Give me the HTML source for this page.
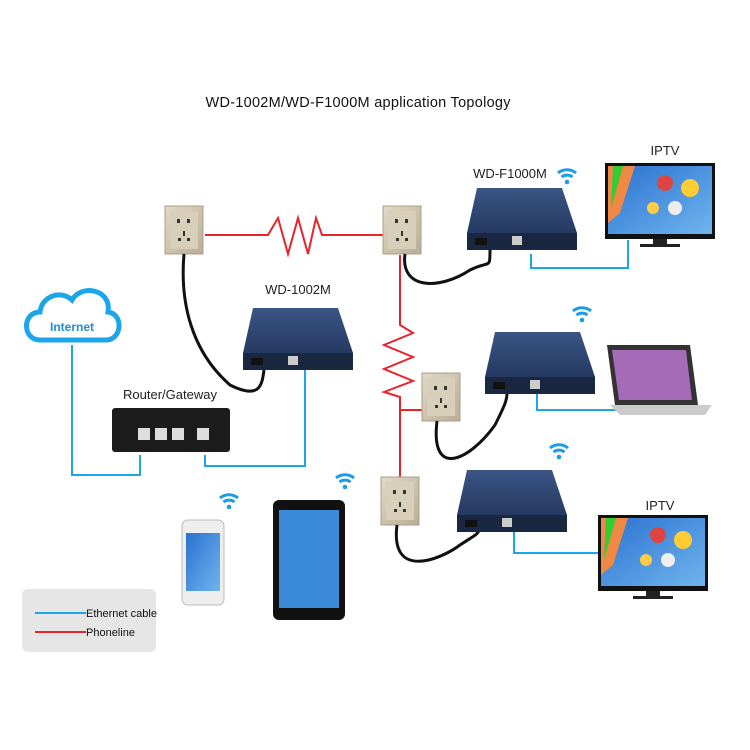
<!DOCTYPE html>
<html><head><meta charset="utf-8"><style>
html,body{margin:0;padding:0;background:#fff;}
svg{display:block;font-family:"Liberation Sans",sans-serif;}
</style></head><body>
<svg width="750" height="750" viewBox="0 0 750 750" xmlns="http://www.w3.org/2000/svg">
<defs>
<linearGradient id="gdev" x1="0" y1="0" x2="0" y2="1"><stop offset="0" stop-color="#3b5585"/><stop offset="1" stop-color="#1d2f55"/></linearGradient>
<linearGradient id="gout" x1="0" y1="0" x2="1" y2="1"><stop offset="0" stop-color="#e2d9c6"/><stop offset="1" stop-color="#b9ad95"/></linearGradient>
<linearGradient id="gscr" x1="0" y1="0" x2="1" y2="1"><stop offset="0" stop-color="#2a72d0"/><stop offset="1" stop-color="#6fb4ee"/></linearGradient>
<g id="outlet"><rect x="0" y="0" width="38" height="48" fill="url(#gout)" stroke="#a89e88"/><rect x="5" y="5" width="28" height="38" fill="#d8cfbb"/><rect x="12" y="13" width="3" height="4" fill="#333"/><rect x="22" y="13" width="3" height="4" fill="#333"/><rect x="18" y="25" width="2" height="5" fill="#333"/><rect x="13" y="32" width="3" height="3" fill="#333"/><rect x="22" y="32" width="3" height="3" fill="#333"/></g>
<g id="box"><path d="M10 0 H95 L110 45 V62 H0 V45 Z" fill="url(#gdev)"/><path d="M0 45 H110 V62 H0Z" fill="#1a2740"/><rect x="8" y="50" width="12" height="7" fill="#111"/><rect x="45" y="48" width="10" height="9" fill="#ccc"/></g>
<g id="wifi" fill="none" stroke="#1e9be6" stroke-width="3"><path d="M0 8 A14 14 0 0 1 18 8"/><path d="M3.5 12 A9 9 0 0 1 14.5 12"/><circle cx="9" cy="17" r="2.3" fill="#1e9be6" stroke="none"/></g>
<g id="tv"><rect x="0" y="0" width="110" height="76" fill="#111"/><rect x="3" y="3" width="104" height="68" fill="url(#gscr)"/><path d="M3 3 L30 3 L15 50 L3 60Z" fill="#e84"/><path d="M8 3 L18 3 L6 45Z" fill="#3c3"/><circle cx="60" cy="20" r="8" fill="#d44"/><circle cx="85" cy="25" r="9" fill="#fc3"/><circle cx="70" cy="45" r="7" fill="#eee"/><circle cx="48" cy="45" r="6" fill="#fc4"/><rect x="48" y="76" width="14" height="5" fill="#222"/><rect x="35" y="81" width="40" height="3" fill="#222"/></g>
</defs>
<text x="358" y="107" font-size="14.5" text-anchor="middle" fill="#111" textLength="305">WD-1002M/WD-F1000M application Topology</text>
<g fill="none" stroke="#e8232a" stroke-width="2">
<polyline points="205,235 268,235 278,218 288,254 298,218 308,254 316,218 322,235 385,235"/>
<polyline points="400,255 400,325 413,333 384,345 413,357 384,369 413,381 384,392 400,397 400,480"/>
<line x1="400" y1="410" x2="422" y2="410"/>
</g>
<use href="#outlet" x="165" y="206"/>
<use href="#outlet" x="383" y="206"/>
<use href="#outlet" x="422" y="373"/>
<use href="#outlet" x="381" y="477"/>
<g fill="none" stroke="#111" stroke-width="3">
<path d="M184 254 C180 300 190 350 230 385 C260 400 262 385 264 370"/>
<path d="M405 254 C400 290 440 290 470 270 C490 260 490 270 490 250"/>
<path d="M437 421 C430 480 470 460 495 425 C505 405 507 400 507 393"/>
<path d="M397 525 C390 580 440 560 460 545 C475 535 478 535 480 528"/>
</g>
<g fill="none" stroke="#1da5ea" stroke-width="2">
<polyline points="72,345 72,475 140,475 140,455"/>
<polyline points="205,455 205,466 305,466 305,368"/>
<polyline points="531,254 531,268 628,268 628,240"/>
<polyline points="537,393 537,410 620,410"/>
<polyline points="514,528 514,553 600,553"/>
</g>
<path d="M40 340 C22 340 22 312 40 312 C42 295 62 290 72 300 C82 283 112 290 108 312 C124 314 122 340 106 340 Z" fill="#fff" stroke="#1da5ea" stroke-width="5"/>
<text x="72" y="331" font-size="12" font-weight="bold" text-anchor="middle" fill="#1d8ed8">Internet</text>
<text x="298" y="294" font-size="13" text-anchor="middle" fill="#222">WD-1002M</text>
<use href="#box" x="243" y="308"/>
<text x="170" y="399" font-size="13" text-anchor="middle" fill="#222">Router/Gateway</text>
<rect x="112" y="408" width="118" height="44" rx="3" fill="#1c1c1c"/>
<g fill="#ddd"><rect x="138" y="428" width="12" height="12"/><rect x="155" y="428" width="12" height="12"/><rect x="172" y="428" width="12" height="12"/><rect x="197" y="428" width="12" height="12"/></g>
<text x="510" y="178" font-size="13" text-anchor="middle" fill="#222">WD-F1000M</text>
<use href="#wifi" x="558" y="165"/>
<use href="#box" x="467" y="188"/>
<text x="665" y="155" font-size="13" text-anchor="middle" fill="#222">IPTV</text>
<use href="#tv" x="605" y="163"/>
<use href="#wifi" x="573" y="303"/>
<use href="#box" x="485" y="332"/>
<path d="M607 345 H690 L698 405 H615 Z" fill="#333"/><path d="M612 350 H686 L692 400 H619Z" fill="#a56ab8"/><path d="M610 405 H712 L705 415 H620Z" fill="#ccc"/>
<use href="#wifi" x="550" y="440"/>
<use href="#box" x="457" y="470"/>
<text x="660" y="510" font-size="13" text-anchor="middle" fill="#222">IPTV</text>
<use href="#tv" x="598" y="515"/>
<use href="#wifi" x="220" y="490"/>
<rect x="182" y="520" width="42" height="85" rx="6" fill="#eee" stroke="#bbb"/><rect x="186" y="533" width="34" height="58" fill="url(#gscr)"/>
<use href="#wifi" x="336" y="470"/>
<rect x="273" y="500" width="72" height="120" rx="6" fill="#111"/><rect x="279" y="510" width="60" height="98" fill="#3a8ad8"/>
<rect x="22" y="589" width="134" height="63" rx="6" fill="#e6e6e6"/>
<line x1="35" y1="613" x2="86" y2="613" stroke="#1da5ea" stroke-width="2"/>
<text x="86" y="617" font-size="11" fill="#111">Ethernet cable</text>
<line x1="35" y1="632" x2="86" y2="632" stroke="#e8232a" stroke-width="2"/>
<text x="86" y="636" font-size="11" fill="#111">Phoneline</text>
</svg>
</body></html>
